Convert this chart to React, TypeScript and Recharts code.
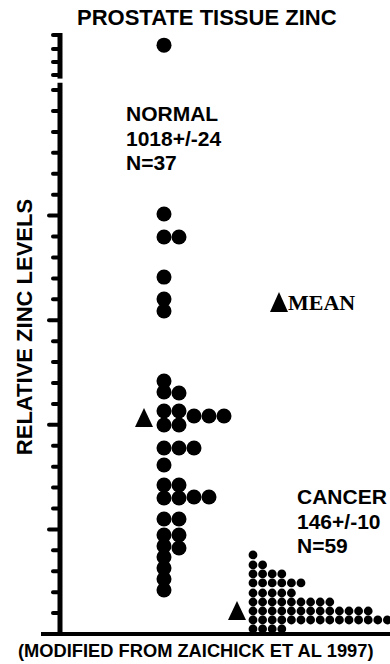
import React from 'react';
import {
    ScatterChart,
    Scatter,
    XAxis,
    YAxis,
    ReferenceLine,
} from 'recharts';

// zinc levels (relative units, tick = 100)
const NORMAL_COLS = [
    [2815, 2008, 1898, 1706, 1601, 1544, 1209, 1157, 1066, 999, 889, 808, 712, 650, 550, 473, 421, 368, 315, 263, 210],
    [1898, 1152, 1066, 999, 889, 712, 650, 550, 473, 411],
    [1042, 889, 655],
    [1042, 655],
    [1042],
];

// cancer group: one level per row, and how many dots sit in each row
const CANCER_ROW_LEVELS = [378, 330, 287, 244, 196, 153, 110, 67, 24];
const CANCER_ROW_COUNTS = [1, 2, 4, 6, 5, 9, 13, 15, 4];

const MEAN_LEVELS = [1032, 110];

const TOP_TICKS = [2863, 2796, 2734, 2672];
const MAIN_TICKS = [
    2600, 2500, 2400, 2300, 2200, 2100, 2000, 1900, 1800, 1700, 1600, 1500, 1400,
    1300, 1200, 1100, 1000, 900, 800, 700, 600, 500, 400, 300, 200, 100,
];
const MAJOR_TICKS = [2000, 1500, 1000, 500];

// layout (horizontal units = px inside the plot)
const NORMAL_X0 = 104;
const NORMAL_STEP = 15;
const CANCER_X0 = 193;
const CANCER_STEP = 9.6;
const MEAN_X = [84, 177];
const Y_MAX = 2873;
const BREAK = [2635, 2655];

const SANS = '"Liberation Sans", Arial, sans-serif';
const SERIF = '"Liberation Serif", "Times New Roman", serif';

const normalData = NORMAL_COLS.flatMap((col, k) =>
    col.map(v => ({ x: NORMAL_X0 + k * NORMAL_STEP, y: v }))
);
const cancerData = CANCER_ROW_LEVELS.flatMap((lvl, r) =>
    Array.from({ length: CANCER_ROW_COUNTS[r] }, (_, j) => ({ x: CANCER_X0 + j * CANCER_STEP, y: lvl }))
);
const meanData = MEAN_LEVELS.map((v, i) => ({ x: MEAN_X[i], y: v }));

const BigDot = (p: any) => <circle cx={p.cx} cy={p.cy} r={7.5} fill="#000" />;
const SmallDot = (p: any) => <circle cx={p.cx} cy={p.cy} r={4.4} fill="#000" />;
const Triangle = (p: any) => (
    <polygon
        points={`${p.cx},${p.cy - 10} ${p.cx + 9},${p.cy + 9} ${p.cx - 9},${p.cy + 9}`}
        fill="#000"
    />
);

const TickMark = ({ x, y, payload }: any) => {
    const len = MAJOR_TICKS.includes(payload.value) ? 11 : 7;
    return (
        <line x1={x - 1} y1={y} x2={x - len} y2={y}
            stroke="#000" strokeWidth={4} strokeLinecap="round" />
    );
};

const textBlock = (f: number): React.CSSProperties => ({
    position: 'absolute',
    fontFamily: SANS,
    fontWeight: 700,
    fontSize: f,
    lineHeight: `${f}px`,
    whiteSpace: 'nowrap',
    color: '#000',
});

export default function App() {
    return (
        <div style={{ position: 'relative', width: 390, height: 664, overflow: 'hidden', background: '#fff' }}>
            <style>{'body{margin:0}'}</style>

            <ScatterChart width={390} height={664} margin={{ top: 33, right: 0, bottom: 30, left: 0 }}>
                <XAxis type="number" dataKey="x" domain={[0, 330]} hide />
                <YAxis
                    type="number"
                    dataKey="y"
                    domain={[0, Y_MAX]}
                    width={60}
                    ticks={[...TOP_TICKS, ...MAIN_TICKS]}
                    interval={0}
                    tickSize={0}
                    tickMargin={0}
                    tickLine={false}
                    axisLine={false}
                    tick={<TickMark />}
                    label={() => (
                        <text x={32} y={327} transform="rotate(-90 32 327)" textAnchor="middle"
                            style={{ fontFamily: SANS, fontWeight: 700, fontSize: 22 }} fill="#000">
                            RELATIVE ZINC LEVELS
                        </text>
                    )}
                />
                {/* broken vertical axis + baseline */}
                <ReferenceLine segment={[{ x: 0, y: 0 }, { x: 0, y: BREAK[0] }]}
                    stroke="#000" strokeWidth={5} ifOverflow="visible" />
                <ReferenceLine segment={[{ x: 0, y: BREAK[1] }, { x: 0, y: Y_MAX }]}
                    stroke="#000" strokeWidth={5} ifOverflow="visible" />
                <ReferenceLine segment={[{ x: -19, y: 0 }, { x: 330, y: 0 }]}
                    stroke="#000" strokeWidth={4} ifOverflow="visible" />

                <Scatter data={normalData} shape={BigDot} isAnimationActive={false} />
                <Scatter data={cancerData} shape={SmallDot} isAnimationActive={false} />
                <Scatter data={meanData} shape={Triangle} isAnimationActive={false} />
            </ScatterChart>

            <div style={{ ...textBlock(22), top: 7, left: 77 }}>PROSTATE TISSUE ZINC</div>

            <div style={{ ...textBlock(21), top: 102, left: 126, lineHeight: '24.5px' }}>
                NORMAL<br />1018+/-24<br />N=37
            </div>

            <div style={{ ...textBlock(21), top: 485, left: 297, lineHeight: '24.5px' }}>
                CANCER<br />146+/-10<br />N=59
            </div>

            <div style={{ position: 'absolute', top: 292, left: 270, display: 'flex', alignItems: 'flex-end' }}>
                <svg width={18} height={20} style={{ display: 'block', marginBottom: 2 }}>
                    <polygon points="9,0 18,20 0,20" fill="#000" />
                </svg>
                <span style={{ fontFamily: SERIF, fontWeight: 700, fontSize: 22, lineHeight: '22px' }}>MEAN</span>
            </div>

            <div style={{ ...textBlock(18.3), top: 642, left: 18 }}>(MODIFIED FROM ZAICHICK ET AL 1997)</div>
        </div>
    );
}
